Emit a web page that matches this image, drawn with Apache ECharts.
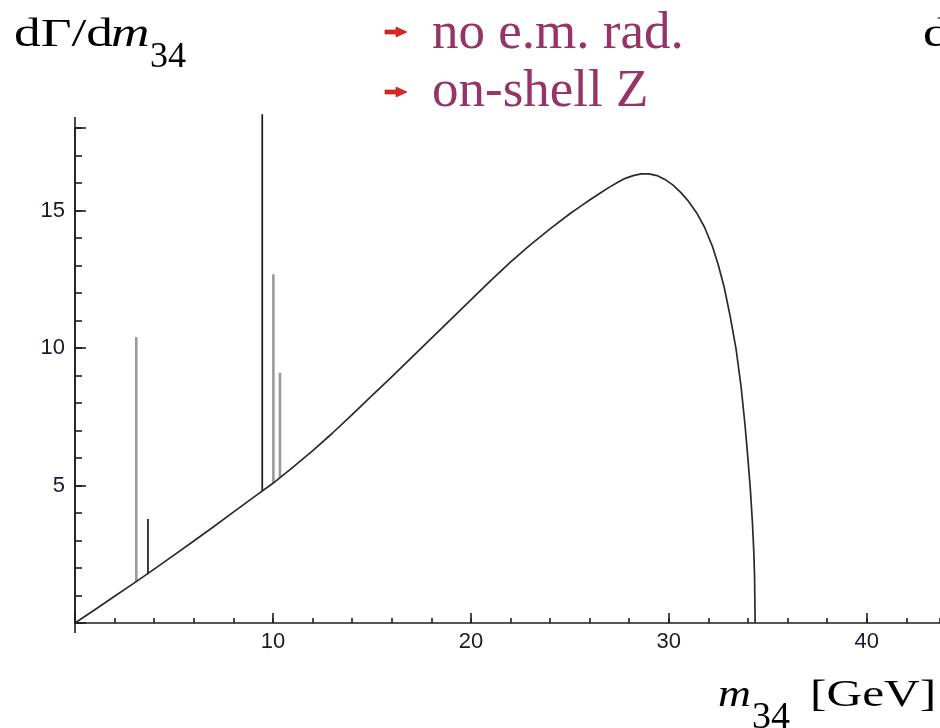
<!DOCTYPE html>
<html>
<head>
<meta charset="utf-8">
<script src="https://cdn.jsdelivr.net/npm/echarts@6/dist/echarts.min.js"></script>
<style>
  html, body { margin: 0; padding: 0; background: #ffffff; }
  #chart { width: 940px; height: 728px; }
</style>
</head>
<body>
<div id="chart"></div>
<script>
// Continuum part of dΓ/dm34 versus the invariant mass m34 [GeV]
const m34 = [0, 1, 2, 3, 4, 5, 6, 7, 8, 9, 10, 11, 12, 13, 14, 15, 16, 17, 18, 19,
  20, 21, 22, 23, 24, 25, 25.5, 26, 26.5, 27, 27.4, 27.8, 28.2, 28.6, 29.0, 29.4, 29.8,
  30.2, 30.6, 31.0, 31.4, 31.8, 32.2, 32.5, 32.8, 33.1, 33.4, 33.65, 33.85, 34.0,
  34.12, 34.22, 34.29, 34.33, 34.36];
const dGamma = [0, 0.48, 0.97, 1.46, 1.96, 2.47, 2.98, 3.5, 4.03, 4.56, 5.08, 5.66,
  6.26, 6.9, 7.58, 8.27, 8.95, 9.65, 10.35, 11.05, 11.75, 12.45, 13.12, 13.75, 14.33,
  14.88, 15.13, 15.38, 15.62, 15.85, 16.02, 16.17, 16.27, 16.33, 16.33, 16.27, 16.13,
  15.93, 15.66, 15.33, 14.92, 14.4, 13.7, 13.02, 12.2, 11.15, 9.95, 8.6, 7.2, 5.95,
  4.85, 3.7, 2.65, 1.75, 0];

// Narrow resonances (J/psi, psi(2S), Upsilon family) shown as spikes on the continuum
const greySpikeMass = [3.097, 10.023, 10.355];
const greySpikeBase = [1.50, 5.09, 5.29];
const greySpikeTop = [10.4, 12.68, 9.1];
const blackSpikeMass = [3.686, 9.46];
const blackSpikeBase = [1.77, 4.79];
const blackSpikeTop = [3.78, 18.5];

// Axis ticks
const xMajorStep = 10, xMinorStep = 2;
const yMajorStep = 5, yMinorStep = 1;
const xMax = 43.7, yMax = 18;

// Legend entries
const legendLabels = ['no e.m. rad.', 'on-shell Z'];

const AXIS = '#1e1e1e';
const LABEL = '#1a1a2a';
const PURPLE = '#963367';
const SERIF = '"Liberation Serif", "Times New Roman", serif';
const SANS = '"Liberation Sans", Arial, sans-serif';

const curve = m34.map((m, i) => [m, dGamma[i]]);

function spikeSeries(mass, base, top, color, width) {
  return mass.map((m, i) => ({
    type: 'line',
    data: [[m, base[i]], [m, top[i]]],
    showSymbol: false,
    clip: false,
    silent: true,
    lineStyle: { color: color, width: width },
    z: 3
  }));
}

const chart = echarts.init(document.getElementById('chart'), null, { renderer: 'canvas' });

const baseAxis = {
  type: 'value',
  min: 0,
  splitLine: { show: false },
  axisLine: { onZero: false, lineStyle: { color: AXIS, width: 1.6 } }
};

const option = {
  animation: false,
  backgroundColor: '#ffffff',
  grid: { left: 75, top: 128, width: 866, height: 495, containLabel: false },
  xAxis: [
    Object.assign({}, baseAxis, {
      position: 'bottom', max: xMax, interval: xMajorStep,
      axisTick: { inside: true, length: 10, lineStyle: { color: AXIS, width: 1.6 } },
      axisLabel: {
        margin: 8, color: LABEL, fontSize: 22, fontFamily: SANS,
        showMaxLabel: false,
        formatter: v => (v > 0 && v % xMajorStep === 0) ? String(v) : ''
      }
    }),
    Object.assign({}, baseAxis, {
      position: 'bottom', max: xMax, interval: xMinorStep,
      axisLine: { show: false, onZero: false },
      axisTick: { inside: true, length: 5, lineStyle: { color: AXIS, width: 1.6 } },
      axisLabel: { show: false }
    })
  ],
  yAxis: [
    Object.assign({}, baseAxis, {
      position: 'left', max: yMax, interval: yMajorStep,
      axisTick: { inside: true, length: 11, lineStyle: { color: AXIS, width: 1.6 } },
      axisLabel: {
        margin: 10, color: LABEL, fontSize: 22, fontFamily: SANS,
        formatter: v => (v > 0 && v % yMajorStep === 0) ? String(v) : ''
      }
    }),
    Object.assign({}, baseAxis, {
      position: 'left', max: yMax, interval: yMinorStep,
      axisLine: { show: false, onZero: false },
      axisTick: { inside: true, length: 7, lineStyle: { color: AXIS, width: 1.6 } },
      axisLabel: { show: false }
    })
  ],
  series: [
    // axes run slightly past the origin and past the top tick
    {
      type: 'line', data: [[-0.97, 0], [0, 0]], showSymbol: false, clip: false, silent: true,
      lineStyle: { color: AXIS, width: 1.6 }, z: 1
    },
    {
      type: 'line', data: [[0, -0.36], [0, 18.4]], showSymbol: false, clip: false, silent: true,
      lineStyle: { color: AXIS, width: 1.6 }, z: 1
    },
    {
      type: 'line', data: curve, showSymbol: false, smooth: false,
      silent: true, clip: false,
      lineStyle: { color: '#2a2a2a', width: 1.7, join: 'round' }, z: 4
    }
  ]
    .concat(spikeSeries(greySpikeMass, greySpikeBase, greySpikeTop, '#9a9a9a', 2.6))
    .concat(spikeSeries(blackSpikeMass, blackSpikeBase, blackSpikeTop, '#1a1a1a', 1.7)),
  graphic: []
};

// text placed by its alphabetic baseline
function serifText(str, x, baseline, size, extra) {
  return Object.assign({
    type: 'text', x: x, y: baseline - 0.305 * size, silent: true,
    style: Object.assign({
      text: str, font: size + 'px ' + SERIF, fill: '#000000',
      align: 'left', verticalAlign: 'middle'
    }, (extra && extra.style) || {})
  }, extra ? { scaleX: extra.scaleX || 1 } : {});
}

const g = option.graphic;
// vertical axis title
g.push(serifText('dΓ/d', 14, 48, 41, { scaleX: 1.3 }));
g.push(serifText('m', 111, 48, 41, { scaleX: 1.3, style: { font: 'italic 41px ' + SERIF } }));
g.push(serifText('34', 150, 69, 36));
// neighbouring panel title, cut at the right edge
g.push(serifText('dΓ/d', 923, 48, 41, { scaleX: 1.3 }));
// horizontal axis title
g.push(serifText('m', 718, 708, 38, { scaleX: 1.2, style: { font: 'italic 38px ' + SERIF } }));
g.push(serifText('34', 752, 730, 38));
g.push(serifText('[GeV]', 810, 708, 38, { scaleX: 1.3 }));

// legend: red arrow marker + purple label
const legendBaselines = [50, 108];
const markerCentres = [32, 92];
legendLabels.forEach((lab, i) => {
  const cy = markerCentres[i];
  g.push({
    type: 'polygon', silent: true,
    shape: { points: [[385, cy - 2], [396, cy - 2], [396, cy - 5], [407, cy], [396, cy + 5], [396, cy + 2], [385, cy + 2]] },
    style: { fill: '#e02424', stroke: '#a01010', lineWidth: 0.6 }
  });
  g.push(serifText(lab, 432, legendBaselines[i], 53, { style: { fill: PURPLE } }));
});

chart.setOption(option);
</script>
</body>
</html>
